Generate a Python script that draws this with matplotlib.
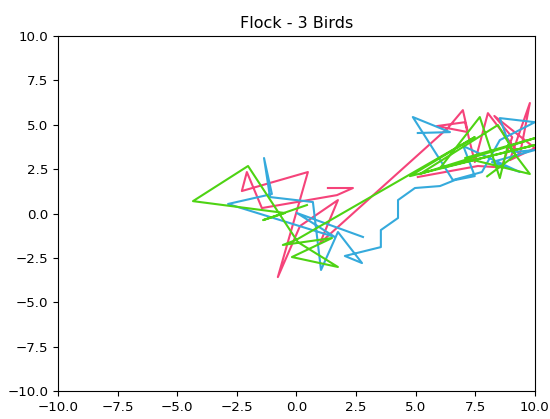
import matplotlib
matplotlib.use("Agg")
import matplotlib.pyplot as plt

# Bird trajectories (x, y) after the flocking run
bird1_x = [1.32, 2.37, 1.70, -1.45, -2.08, -2.29, 0.48, -0.78, 0.15, 1.74, 0.99,
           6.35, 6.98, 7.19, 5.89, 7.07, 7.48, 8.03, 9.37, 9.79, 8.95, 10.0, 8.30,
           9.05, 8.60, 7.61, 5.09]
bird1_y = [1.44, 1.44, 1.04, 0.31, 2.34, 1.27, 2.34, -3.58, -0.70, 0.76, -1.66,
           4.82, 5.83, 4.59, 4.93, 5.15, 2.90, 5.66, 3.30, 6.23, 3.01, 3.69, 5.50,
           4.30, 2.60, 2.68, 2.06]

bird2_x = [5.09, 6.44, 4.88, 6.56, 7.78, 8.53, 10.0, 8.53, 9.04, 10.0, 8.20, 9.37,
           7.00, 7.48, 6.65, 6.02, 4.97, 4.26, 4.26, 3.54, 3.54, 2.03, 2.75, 1.74,
           1.03, 0.69, -1.11, -1.36, -1.03, -2.87, 1.61, 0.02, 2.79]
bird2_y = [4.54, 4.59, 5.44, 1.89, 2.34, 4.14, 5.15, 5.38, 3.46, 3.58, 2.90, 2.34,
           3.80, 2.11, 1.89, 1.55, 1.44, 0.76, -0.25, -0.93, -1.89, -2.39, -2.79, -1.04,
           -3.18, 0.65, 0.93, 3.13, 1.10, 0.54, -1.32, 0.03, -1.32]

bird3_x = [0.44, -1.40, -0.48, -4.34, -2.03, 0.06, 1.74, -0.19, 1.49, -0.57, -0.02,
           7.48, 4.76, 10.0, 6.02, 7.69, 8.53, 8.87, 9.79, 7.07, 10.0, 5.18, 8.45,
           9.20, 8.00]
bird3_y = [0.48, -0.37, 0.03, 0.70, 2.68, -1.61, -3.01, -2.45, -1.38, -1.77, -1.49,
           4.31, 2.11, 3.86, 2.56, 5.44, 2.00, 3.86, 2.23, 3.13, 4.25, 2.23, 4.99,
           3.30, 2.10]

colors = ["#f5437a", "#35aadc", "#4ed313"]

plt.rcParams["font.size"] = 9.6
fig = plt.figure(figsize=(5.5, 4.19), dpi=100)
ax = fig.add_axes([0.1055, 0.0668, 0.867, 0.847])

ax.plot(bird1_x, bird1_y, color=colors[0], lw=1.5)
ax.plot(bird2_x, bird2_y, color=colors[1], lw=1.5)
ax.plot(bird3_x, bird3_y, color=colors[2], lw=1.5)

ax.set_xlim(-10, 10)
ax.set_ylim(-10, 10)
ax.set_title("Flock - 3 Birds")

fig.savefig("out.png", dpi=100)
